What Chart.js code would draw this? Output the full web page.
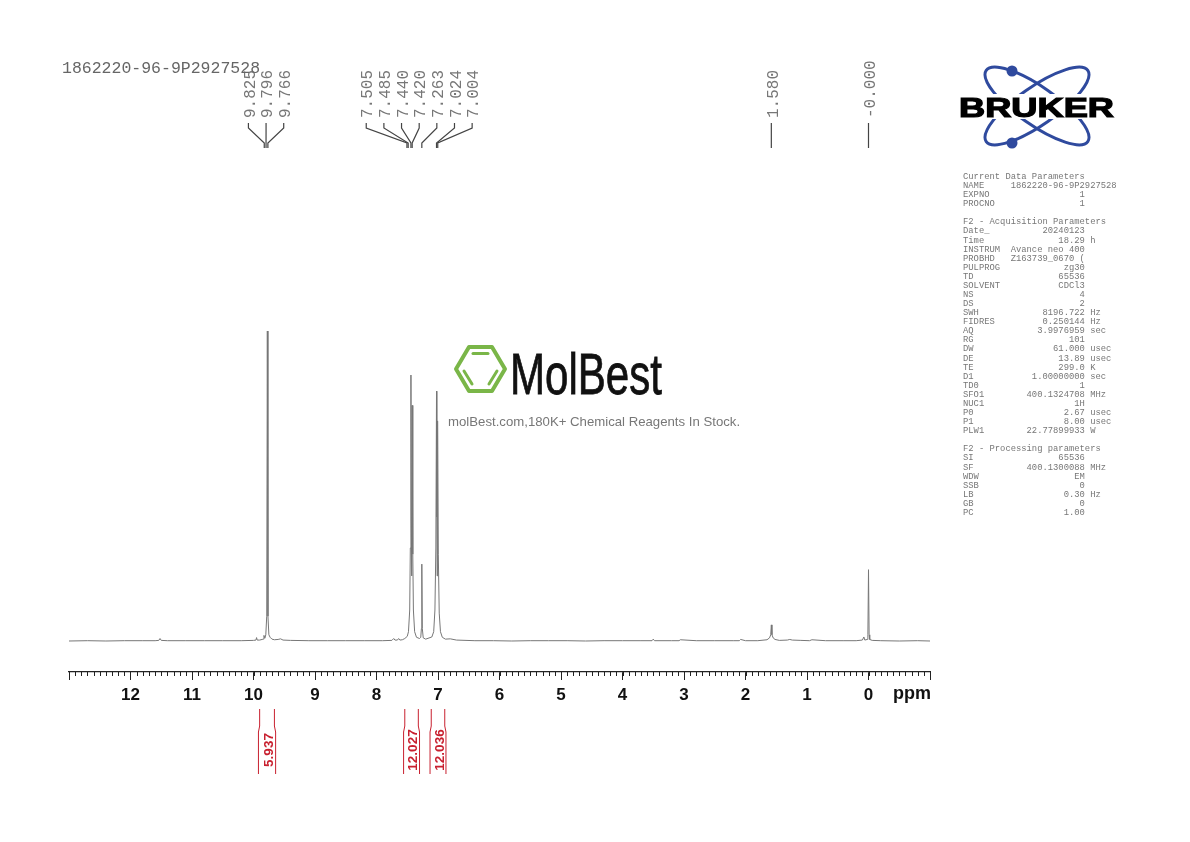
<!DOCTYPE html>
<html>
<head>
<meta charset="utf-8">
<title>1H NMR</title>
<script src="https://cdn.jsdelivr.net/npm/chart.js@4"></script>
<style>
  html, body { margin: 0; background: #fff; }
  #wrap { position: relative; width: 1190px; height: 842px; overflow: hidden; }
  #wrap canvas { position: absolute; left: 0; top: 0; }
  .abs { position: absolute; white-space: pre; }
  #sample { left: 62px; top: 59px; font: 16.5px "Liberation Mono", monospace; color: #666; }
  #params { left: 963px; top: 173px; font: 8.83px/9.08px "Liberation Mono", monospace; color: #777; }
  #tagline { left: 448px; top: 414px; font: 13.2px "Liberation Sans", Arial, sans-serif; color: #777; }
  svg.abs { left: 0; top: 0; }
</style>
</head>
<body>
<div id="wrap">
  <canvas id="nmr" width="1190" height="842"></canvas>
  <svg class="abs" width="1190" height="842">
    <!-- Bruker logo -->
    <g fill="none" stroke="#2f4a9e" stroke-width="3">
      <ellipse cx="1037" cy="106" rx="62" ry="19" transform="rotate(35 1037 106)"/>
      <ellipse cx="1037" cy="106" rx="62" ry="19" transform="rotate(-35 1037 106)"/>
    </g>
    <circle cx="1012" cy="71" r="5.5" fill="#2f4a9e"/>
    <circle cx="1012" cy="143" r="5.5" fill="#2f4a9e"/>
    <rect x="955" y="94" width="164" height="25" fill="#fff"/>
    <text x="959" y="116.5" font-family="Liberation Sans" font-weight="700" font-size="27" stroke="#000" stroke-width="1.2"
      textLength="155" lengthAdjust="spacingAndGlyphs">BRUKER</text>
    <!-- MolBest logo -->
    <polygon points="456,369 469,347 492,347 505,369 492,391 469,391" fill="none" stroke="#7ab648" stroke-width="4" stroke-linejoin="round"/>
    <g stroke="#7ab648" stroke-width="3" stroke-linecap="round">
      <line x1="473" y1="353.5" x2="488" y2="353.5"/>
      <line x1="464" y1="371" x2="472" y2="384"/>
      <line x1="497" y1="371" x2="489" y2="384"/>
    </g>
    <text x="510" y="394" font-family="Liberation Sans Narrow, Liberation Sans" font-size="58" fill="#111" stroke="#111" stroke-width="0.8"
      textLength="152" lengthAdjust="spacingAndGlyphs">MolBest</text>
  </svg>
  <div class="abs" id="sample">1862220-96-9P2927528</div>
  <div class="abs" id="tagline">molBest.com,180K+ Chemical Reagents In Stock.</div>
  <div class="abs" id="params"></div>
</div>
<script>
// Spectrum: shift in ppm, intensity with the tallest line = 100
const ppm = [
  13, 12.7, 12.4, 12.1, 11.8, 11.6, 11.54, 11.52, 11.5, 11.4, 11.1, 10.8, 10.5, 10.2, 10,
  9.96, 9.95, 9.94, 9.9, 9.86, 9.84, 9.83, 9.815, 9.8, 9.785, 9.775, 9.765, 9.75, 9.73, 9.7, 9.66, 9.6, 9.56, 9.52, 9.4,
  9.1, 8.8, 8.5, 8.2, 7.9, 7.75, 7.72, 7.7, 7.66, 7.64, 7.62, 7.58, 7.54, 7.5, 7.48, 7.46, 7.45,
  7.44, 7.435, 7.43, 7.425, 7.42, 7.41, 7.4, 7.38, 7.35, 7.3, 7.28, 7.27, 7.263, 7.255, 7.24, 7.2,
  7.1, 7.07, 7.05, 7.035, 7.024, 7.019, 7.014, 7.009, 7.004, 6.995, 6.98, 6.96, 6.93, 6.88, 6.8, 6.7,
  6.4, 6.1, 5.8, 5.5, 5.2, 4.9, 4.6, 4.3, 4, 3.7, 3.52, 3.5, 3.48, 3.2, 3.08, 3.06, 2.8, 2.5, 2.2, 2.1, 2.08, 2, 1.8,
  1.65, 1.61, 1.59, 1.58, 1.57, 1.55, 1.52, 1.45, 1.32, 1.28, 1.24, 1.1, 0.96, 0.92, 0.7, 0.4, 0.2,
  0.1, 0.075, 0.06, 0.02, 0.01, 0, -0.01, -0.02, -0.06, -0.2, -0.5, -0.8, -1
];
const intensity = [
  0, 0.1, 0, 0.1, 0.1, 0.1, 0.2, 0.8, 0.2, 0.1, 0.1, 0.1, 0.1, 0.1, 0.2,
  0.3, 1.1, 0.3, 0.3, 0.5, 0.6, 1.8, 0.9, 2, 8, 100, 8, 2, 1.2, 0.6, 0.4, 0.5, 0.7, 0.3, 0.2,
  0.1, 0.1, 0.1, 0.1, 0.1, 0.2, 0.8, 0.3, 0.3, 0.8, 0.3, 0.4, 0.8, 1.5, 3, 10, 30,
  85.8, 40, 21, 40, 76, 28, 10, 3, 1.2, 0.8, 1.2, 4, 24.8, 4, 1, 0.6,
  1.3, 3, 10, 30, 80.6, 40, 21, 40, 71, 28, 9, 3, 1.2, 0.6, 0.7, 0.3,
  0.1, 0.1, 0, 0.1, 0.1, 0.1, 0, 0.1, 0.1, 0.1, 0.1, 0.6, 0.1, 0.1, 0.1, 0.4, 0.1, 0.1, 0.1, 0.1, 0.5, 0.1, 0.1,
  0.4, 1, 2, 5.2, 2, 1, 0.5, 0.2, 0.3, 0.5, 0.3, 0.2, 0.1, 0.4, 0.1, 0.1, 0.1,
  0.3, 1.3, 0.3, 0.5, 2, 23, 2, 0.5, 0.2, 0.1, 0, 0.1, 0
];

// Peak picking labels, one list per group of connectors
const peakGroups = [
  ['9.825', '9.796', '9.766'],
  ['7.505', '7.485', '7.440', '7.420', '7.263', '7.024', '7.004'],
  ['1.580'],
  ['-0.000']
];

// Integrals: ppm limits and value
const integralLimits = [[9.9, 9.66], [7.54, 7.32], [7.11, 6.89]];
const integralValues = ['5.937', '12.027', '12.036'];

const xMajorStep = 1;
const xMinorStep = 0.1;

const sampleName = '1862220-96-9P2927528';
const paramLines = [
  'Current Data Parameters',
  'NAME     1862220-96-9P2927528',
  'EXPNO                 1',
  'PROCNO                1',
  '',
  'F2 - Acquisition Parameters',
  'Date_          20240123',
  'Time              18.29 h',
  'INSTRUM  Avance neo 400',
  'PROBHD   Z163739_0670 (',
  'PULPROG            zg30',
  'TD                65536',
  'SOLVENT           CDCl3',
  'NS                    4',
  'DS                    2',
  'SWH            8196.722 Hz',
  'FIDRES         0.250144 Hz',
  'AQ            3.9976959 sec',
  'RG                  101',
  'DW               61.000 usec',
  'DE                13.89 usec',
  'TE                299.0 K',
  'D1           1.00000000 sec',
  'TD0                   1',
  'SFO1        400.1324708 MHz',
  'NUC1                 1H',
  'P0                 2.67 usec',
  'P1                 8.00 usec',
  'PLW1        22.77899933 W',
  '',
  'F2 - Processing parameters',
  'SI                65536',
  'SF          400.1300088 MHz',
  'WDW                  EM',
  'SSB                   0',
  'LB                 0.30 Hz',
  'GB                    0',
  'PC                 1.00'
];
document.getElementById('params').textContent = paramLines.join('\n');
document.getElementById('sample').textContent = sampleName;

// Short ticks, peak labels with connectors, integrals, unit
const nmrExtras = {
  id: 'nmrExtras',
  afterDraw(chart) {
    const { ctx, chartArea } = chart;
    const x = chart.scales.x;
    ctx.save();

    // minor ticks
    ctx.strokeStyle = '#222';
    ctx.lineWidth = 1;
    ctx.beginPath();
    const steps = Math.round((x.max - x.min) / xMinorStep);
    for (let i = 0; i <= steps; i++) {
      const px = Math.round(x.getPixelForValue(x.min + i * xMinorStep)) + 0.5;
      ctx.moveTo(px, chartArea.bottom);
      ctx.lineTo(px, chartArea.bottom + 4);
    }
    ctx.stroke();

    // ppm unit
    ctx.fillStyle = '#111';
    ctx.font = 'bold 18px "Liberation Sans"';
    ctx.textAlign = 'right';
    ctx.textBaseline = 'alphabetic';
    ctx.fillText('ppm', chartArea.right + 1, 699);

    // peak labels
    const labelGap = 17.65;
    peakGroups.forEach(group => {
      const pixels = group.map(v => x.getPixelForValue(parseFloat(v)));
      const centre = pixels.reduce((a, b) => a + b, 0) / pixels.length;
      group.forEach((label, i) => {
        const lx = centre + (i - (group.length - 1) / 2) * labelGap;
        ctx.save();
        ctx.translate(lx + 2, 118);
        ctx.rotate(-Math.PI / 2);
        ctx.font = '16px "Liberation Mono"';
        ctx.fillStyle = '#777';
        ctx.textAlign = 'left';
        ctx.textBaseline = 'middle';
        ctx.fillText(label, 0, 0);
        ctx.restore();

        ctx.strokeStyle = '#444';
        ctx.lineWidth = 1.2;
        ctx.beginPath();
        ctx.moveTo(lx, 123);
        ctx.lineTo(lx, 128);
        ctx.lineTo(pixels[i], 143);
        ctx.lineTo(pixels[i], 148);
        ctx.stroke();
      });
    });

    // integrals
    ctx.strokeStyle = '#c8202f';
    ctx.fillStyle = '#c8202f';
    ctx.lineWidth = 1;
    integralLimits.forEach((limits, i) => {
      const left = x.getPixelForValue(limits[0]);
      const right = x.getPixelForValue(limits[1]);
      [[left, -1.2], [right, 1.2]].forEach(([px, bend]) => {
        ctx.beginPath();
        ctx.moveTo(px, 709);
        ctx.lineTo(px, 726);
        ctx.lineTo(px + bend, 732);
        ctx.lineTo(px + bend, 774);
        ctx.stroke();
      });
      ctx.save();
      ctx.translate((left + right) / 2 + 2, 750);
      ctx.rotate(-Math.PI / 2);
      ctx.font = 'bold 13.5px "Liberation Sans"';
      ctx.textAlign = 'center';
      ctx.textBaseline = 'middle';
      ctx.fillText(integralValues[i], 0, 0);
      ctx.restore();
    });

    ctx.restore();
  }
};

new Chart(document.getElementById('nmr'), {
  type: 'line',
  data: {
    datasets: [{
      data: ppm.map((p, i) => ({ x: p, y: intensity[i] })),
      borderColor: '#777',
      borderWidth: 1,
      borderJoinStyle: 'round',
      pointRadius: 0,
      tension: 0,
      fill: false
    }]
  },
  plugins: [nmrExtras],
  options: {
    responsive: false,
    animation: false,
    layout: { padding: { left: 69, right: 260, top: 52, bottom: 0 } },
    plugins: { legend: { display: false }, tooltip: { enabled: false } },
    scales: {
      x: {
        type: 'linear',
        reverse: true,
        min: -1,
        max: 13,
        afterFit: s => { s.height = 170; },
        border: { display: true, color: '#222', width: 1.2 },
        grid: { drawOnChartArea: false, tickLength: 8, tickColor: '#222', tickWidth: 1 },
        ticks: {
          stepSize: xMajorStep,
          autoSkip: false,
          maxRotation: 0,
          padding: 5,
          color: '#111',
          font: { family: 'Liberation Sans', size: 17, weight: 'bold' },
          callback: v => (v === 13 || v === -1) ? '' : String(v)
        }
      },
      y: { display: false, min: -10, max: 190 }
    }
  }
});
</script>
</body>
</html>
